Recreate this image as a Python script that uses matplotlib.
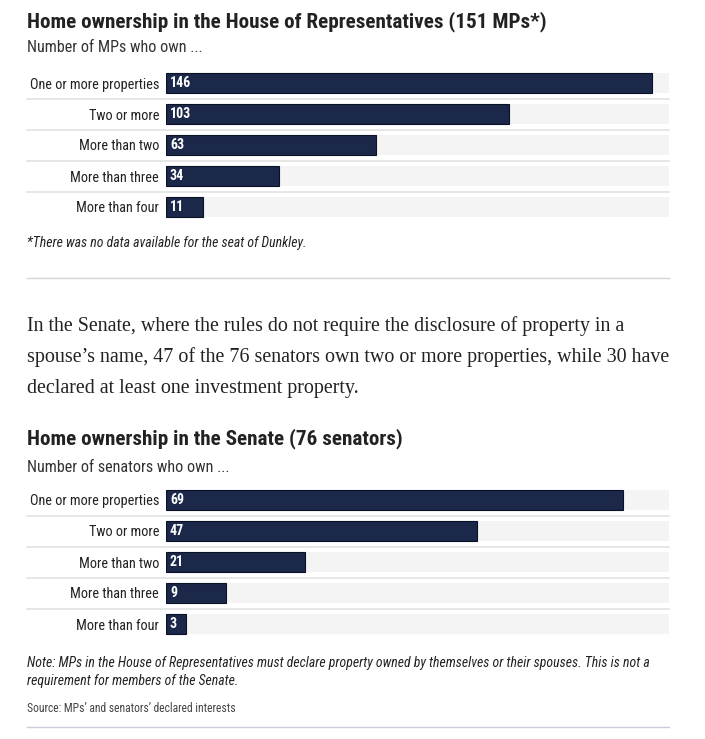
import matplotlib.pyplot as plt
from matplotlib import font_manager as fm

# data
categories = ['One or more properties', 'Two or more', 'More than two',
              'More than three', 'More than four']
house_values = [146, 103, 63, 34, 11]
house_total = 151
senate_values = [69, 47, 21, 9, 3]
senate_total = 76

names = {f.name for f in fm.fontManager.ttflist}
sans = [n for n in ['Liberation Sans Narrow', 'Roboto Condensed', 'Roboto', 'DejaVu Sans'] if n in names]
serif = [n for n in ['Liberation Serif', 'DejaVu Serif'] if n in names]
plt.rcParams['font.family'] = sans

W, H = 705, 739
fig = plt.figure(figsize=(W / 100, H / 100), dpi=100)

BAR = '#1c2849'
TRACK = '#f4f4f4'
TXT = '#222222'


def px(x, y):
    return x / W, 1 - y / H


def text(x, y, s, color=TXT, **kw):
    fx, fy = px(x, y)
    fig.text(fx, fy, s, va='center', ha='left', color=color, **kw)


def hline(y, x0=27, x1=669, color='#d5d5d5', lw=1.0):
    fig.add_artist(plt.Line2D([x0 / W, x1 / W], [1 - y / H] * 2,
                              color=color, lw=lw, transform=fig.transFigure))


def bars(top, values, total):
    # axes spans 5 rows of 31 px, starting at pixel row 'top'
    left, right = 166, 669
    h = 31 * len(values)
    ax = fig.add_axes([left / W, 1 - (top + h) / H, (right - left) / W, h / H])
    y = list(range(len(values)))
    ax.barh(y, [total] * len(values), height=20 / 31, color=TRACK, lw=0)
    ax.barh(y, values, height=20 / 31, color=BAR, edgecolor='#0a1228', lw=0.8)
    for i, v in enumerate(values):
        ax.text(total * 4 / 503, i, str(v), color='white', fontsize=10,
                fontweight='bold', va='center', ha='left')
    ax.set_xlim(0, total)
    ax.set_ylim(len(values) - 0.5, -0.5)
    ax.set_yticks(y)
    ax.set_yticklabels(categories, fontsize=10.3, color=TXT)
    ax.tick_params(axis='y', length=0, pad=5)
    ax.set_xticks([])
    for s in ax.spines.values():
        s.set_visible(False)
    ax.patch.set_alpha(0)
    xa = (27 - left) / (right - left)
    for i in range(len(values) - 1):
        ax.plot([xa, 1], [i + 0.5, i + 0.5], color='#e2e2e2', lw=1.2,
                transform=ax.get_yaxis_transform(), clip_on=False)
    return ax


# House chart
text(27, 22, 'Home ownership in the House of Representatives (151 MPs*)',
     fontsize=15.2, fontweight='bold')
text(27, 48, 'Number of MPs who own ...', fontsize=11.6, color='#333333')
bars(67.5, house_values, house_total)
text(27, 243, '*There was no data available for the seat of Dunkley.',
     fontsize=9.9, style='italic')
hline(278)

# body paragraph
para = ['In the Senate, where the rules do not require the disclosure of property in a',
        'spouse\u2019s name, 47 of the 76 senators own two or more properties, while 30 have',
        'declared at least one investment property.']
for i, line in enumerate(para):
    text(27, 326 + 31 * i, line, fontsize=14.4, family=serif)

# Senate chart
text(27, 439, 'Home ownership in the Senate (76 senators)', fontsize=15.2,
     fontweight='bold')
text(27, 467, 'Number of senators who own ...', fontsize=11.6, color='#333333')
bars(484.5, senate_values, senate_total)
text(27, 663, 'Note: MPs in the House of Representatives must declare property owned by '
     'themselves or their spouses. This is not a', fontsize=9.9, style='italic')
text(27, 681, 'requirement for members of the Senate.', fontsize=9.9, style='italic')
text(27, 708, 'Source: MPs\u2019 and senators\u2019 declared interests', fontsize=8.4,
     color='#444444')
hline(727, color='#c9ccd8')

fig.savefig('out.png', dpi=100)
